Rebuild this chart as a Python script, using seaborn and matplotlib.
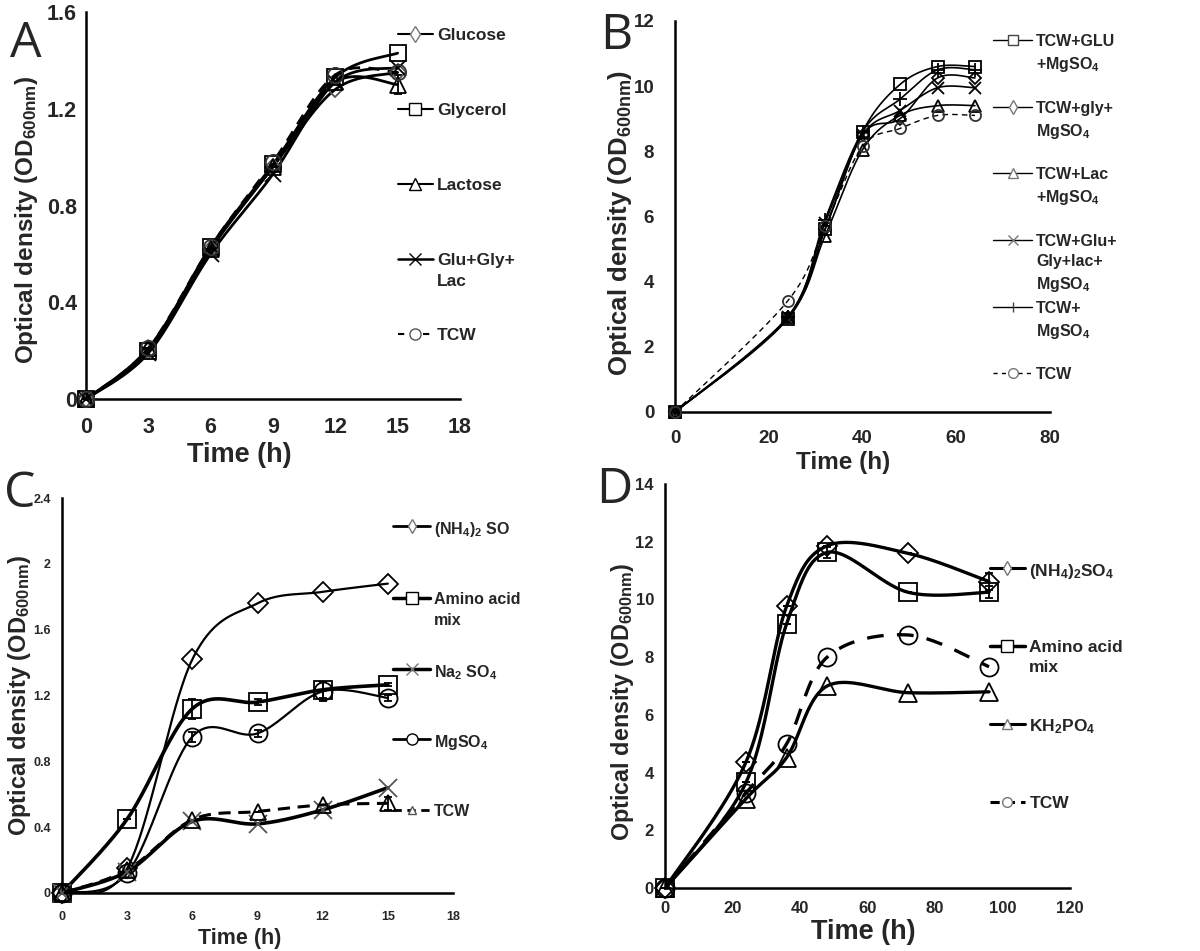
import numpy as np
import pandas as pd
import seaborn as sns
import matplotlib.pyplot as plt

# ---- data ----
# A : carbon sources
a_time = [0, 3, 6, 9, 12, 15]
a_glucose = [0, 0.20, 0.62, 0.96, 1.28, 1.35]
a_glycerol = [0, 0.20, 0.63, 0.97, 1.33, 1.43]
a_lactose = [0, 0.21, 0.62, 0.96, 1.31, 1.30]
a_lactose_err = [0, 0, 0, 0, 0, 0.04]
a_mix = [0, 0.19, 0.60, 0.93, 1.31, 1.37]
a_tcw = [0, 0.21, 0.63, 0.98, 1.34, 1.35]

# B : carbon + MgSO4
b_time = [0, 24, 32, 40, 48, 56, 64]
b_glu = [0, 2.85, 5.6, 8.6, 10.05, 10.6, 10.6]
b_gly = [0, 2.9, 5.6, 8.5, 9.0, 10.25, 10.25]
b_lac = [0, 2.9, 5.4, 8.05, 9.1, 9.4, 9.4]
b_mix = [0, 2.9, 5.8, 8.5, 9.25, 9.95, 9.95]
b_mg = [0, 2.9, 5.9, 8.6, 9.6, 10.5, 10.5]
b_tcw = [0, 3.4, 5.7, 8.15, 8.7, 9.1, 9.1]

# C : nitrogen / salt sources (short)
c_time = [0, 3, 6, 9, 12, 15]
c_nh4 = [0, 0.15, 1.42, 1.76, 1.83, 1.88]
c_amino = [0, 0.45, 1.12, 1.16, 1.235, 1.265]
c_amino_err = [0, 0, 0.06, 0.02, 0.05, 0.01]
c_na = [0, 0.13, 0.435, 0.42, 0.505, 0.64]
c_mg = [0, 0.12, 0.95, 0.97, 1.225, 1.185]
c_mg_err = [0, 0, 0.03, 0.02, 0.06, 0.02]
c_tcw = [0, 0.14, 0.445, 0.495, 0.535, 0.545]
c_tcw_err = [0, 0, 0, 0, 0, 0.04]

# D : nitrogen / phosphate sources (long)
d_time = [0, 24, 36, 48, 72, 96]
d_nh4 = [0, 4.37, 9.76, 11.86, 11.6, 10.62]
d_nh4_err = [0, 0, 0, 0, 0, 0.3]
d_amino = [0, 3.66, 9.15, 11.63, 10.25, 10.25]
d_amino_err = [0, 0, 0, 0.2, 0, 0.2]
d_kh2po4 = [0, 3.1, 4.52, 7.0, 6.77, 6.8]
d_tcw = [0, 3.3, 4.99, 8.0, 8.77, 7.67]

sns.set_style('white')
plt.rcParams['font.family'] = ['Liberation Sans', 'DejaVu Sans']
plt.rcParams['font.weight'] = 'bold'
plt.rcParams['mathtext.fontset'] = 'custom'
plt.rcParams['mathtext.rm'] = 'Liberation Sans:bold'
plt.rcParams['mathtext.bf'] = 'Liberation Sans:bold'
plt.rcParams['mathtext.it'] = 'Liberation Sans:bold'


def smooth(x, y, n=40):
    # excel style smoothed line (bezier through the points)
    x = np.asarray(x, float)
    y = np.asarray(y, float)
    px, py = [], []
    t = np.linspace(0, 1, n)
    for i in range(len(x) - 1):
        x0, y0 = (x[i - 1], y[i - 1]) if i > 0 else (x[i], y[i])
        x3, y3 = (x[i + 2], y[i + 2]) if i + 2 < len(x) else (x[i + 1], y[i + 1])
        c1x, c1y = x[i] + (x[i + 1] - x0) / 6, y[i] + (y[i + 1] - y0) / 6
        c2x, c2y = x[i + 1] - (x3 - x[i]) / 6, y[i + 1] - (y3 - y[i]) / 6
        bx = (1 - t)**3 * x[i] + 3 * (1 - t)**2 * t * c1x + 3 * (1 - t) * t**2 * c2x + t**3 * x[i + 1]
        by = (1 - t)**3 * y[i] + 3 * (1 - t)**2 * t * c1y + 3 * (1 - t) * t**2 * c2y + t**3 * y[i + 1]
        px.extend(bx)
        py.extend(by)
    return np.array(px), np.array(py)


def draw(ax, x, y, marker, lw=2, ls='-', ms=10, err=None, mec='black', mew=1.3):
    sx, sy = smooth(x, y)
    df = pd.DataFrame({'x': sx, 'y': sy})
    sns.lineplot(data=df, x='x', y='y', ax=ax, color='black', lw=lw, linestyle=ls,
                 sort=False, estimator=None)
    ax.errorbar(x, y, yerr=err, fmt=marker, ms=ms, mfc='none', mec=mec, mew=mew,
                ecolor='black', elinewidth=1.3, capsize=3, clip_on=False, zorder=3)


def legend(ax, entries, x0, x1, ys, fs=12.5, lsp=1.5):
    for (label, marker, ls, lw, ms, mc), y in zip(entries, ys):
        ax.plot([x0, x1], [y, y], color='black', lw=lw, ls=ls, transform=ax.transAxes, clip_on=False)
        ax.plot([(x0 + x1) / 2], [y], marker=marker, ms=ms, mfc='white', mec=mc, mew=1,
                transform=ax.transAxes, clip_on=False)
        ax.annotate(label, xy=(x1, y), xycoords='axes fraction', xytext=(3, 4.5),
                    textcoords='offset points', va='top', ha='left', fontsize=fs,
                    fontweight='bold', linespacing=lsp)


def style(ax, xticks, yticks, xlim, ylim, tfs, xfs, yfs, xlab_pos, ylab_pos, xpad=7, ypad=6):
    ax.set_xlim(xlim)
    ax.set_ylim(ylim)
    ax.set_xticks(xticks)
    ax.set_yticks(yticks)
    ax.set_yticklabels([('%g' % v) for v in yticks])
    for s in ['top', 'right']:
        ax.spines[s].set_visible(False)
    for s in ['left', 'bottom']:
        ax.spines[s].set_color('black')
        ax.spines[s].set_linewidth(1.8)
    ax.tick_params(axis='x', direction='out', length=6, width=1.8, pad=xpad, labelsize=tfs)
    ax.tick_params(axis='y', length=0, pad=ypad, labelsize=tfs)
    for lab in ax.get_xticklabels() + ax.get_yticklabels():
        lab.set_fontweight('bold')
    ax.set_xlabel('Time (h)', fontsize=xfs, fontweight='bold', va='center')
    ax.set_ylabel(r'Optical density (OD$_{\mathbf{600nm}}$)', fontsize=yfs, fontweight='bold', va='center')
    ax.xaxis.set_label_coords(*xlab_pos)
    ax.yaxis.set_label_coords(*ylab_pos)


fig = plt.figure(figsize=(12, 9.51), dpi=100)
axA = fig.add_axes([0.0717, 0.5804, 0.3116, 0.4070])
axB = fig.add_axes([0.5625, 0.5668, 0.3125, 0.4112])
axC = fig.add_axes([0.0517, 0.0610, 0.3258, 0.4153])
axD = fig.add_axes([0.5542, 0.0662, 0.3375, 0.4248])

# ---- A ----
draw(axA, a_time, a_glucose, 'D', ms=8, mec='#555555')
draw(axA, a_time, a_glycerol, 's', ms=11)
draw(axA, a_time, a_lactose, '^', ms=11, err=a_lactose_err)
draw(axA, a_time, a_mix, 'x', ms=11)
draw(axA, a_time, a_tcw, 'o', ls=(0, (4, 3)), ms=11, mec='#333333')
style(axA, range(0, 19, 3), [0, 0.4, 0.8, 1.2, 1.6], (0, 18), (0, 1.6), 15.5, 19.5, 17.5,
      (0.41, -0.145), (-0.158, 0.462), ypad=6.5)
legend(axA, [('Glucose', 'd', '-', 1.5, 8, '#777777'),
             ('Glycerol', 's', '-', 1.5, 8, 'black'),
             ('Lactose', '^', '-', 1.5, 8, 'black'),
             ('Glu+Gly+\nLac', 'x', '-', 1.8, 8, 'black'),
             ('TCW', 'o', (0, (3, 3)), 1.5, 8, '#555555')],
       0.834, 0.928, [0.943, 0.749, 0.556, 0.362, 0.168])

# ---- B ----
draw(axB, b_time, b_glu, 's', lw=1.2, ms=8)
draw(axB, b_time, b_gly, 'D', lw=1.2, ms=6.5)
draw(axB, b_time, b_lac, '^', lw=1.2, ms=8)
draw(axB, b_time, b_mix, 'x', lw=1.2, ms=8)
draw(axB, b_time, b_mg, '+', lw=1.2, ms=10)
draw(axB, b_time, b_tcw, 'o', lw=1.0, ls=(0, (4, 3)), ms=8, mec='#333333')
style(axB, range(0, 81, 20), range(0, 13, 2), (0, 80), (0, 12), 13.5, 17.5, 18.5,
      (0.448, -0.13), (-0.148, 0.483), ypad=15)
legend(axB, [('TCW+GLU\n+MgSO$_4$', 's', '-', 1.0, 7, '#444444'),
             ('TCW+gly+\nMgSO$_4$', 'd', '-', 1.0, 7, '#777777'),
             ('TCW+Lac\n+MgSO$_4$', '^', '-', 1.0, 7, '#777777'),
             ('TCW+Glu+\nGly+lac+\nMgSO$_4$', 'x', '-', 1.0, 7, '#777777'),
             ('TCW+\nMgSO$_4$', '|', '-', 1.0, 7, '#444444'),
             ('TCW', 'o', (0, (3, 3)), 1.0, 7, '#777777')],
       0.848, 0.952, [0.951, 0.780, 0.611, 0.440, 0.269, 0.100], fs=11.5, lsp=1.45)

# ---- C ----
draw(axC, c_time, c_nh4, 'D', lw=1.6, ms=10)
draw(axC, c_time, c_amino, 's', lw=2.6, ms=13, err=c_amino_err)
draw(axC, c_time, c_na, 'x', lw=2.6, ms=13, mec='#555555')
draw(axC, c_time, c_mg, 'o', lw=1.6, ms=13, err=c_mg_err)
draw(axC, c_time, c_tcw, '^', lw=2.2, ls=(0, (4, 2.5)), ms=12, err=c_tcw_err)
style(axC, range(0, 19, 3), [0, 0.4, 0.8, 1.2, 1.6, 2.0, 2.4], (0, 18), (0, 2.4), 9, 15.5, 17,
      (0.455, -0.114), (-0.11, 0.5), ypad=8)
legend(axC, [('(NH$_4$)$_2$ SO', 'd', '-', 2.0, 7, '#777777'),
             ('Amino acid\nmix', 's', '-', 2.5, 8, 'black'),
             ('Na$_2$ SO$_4$', 'x', '-', 2.5, 9, '#777777'),
             ('MgSO$_4$', 'o', '-', 2.0, 8, 'black'),
             ('TCW', '^', (0, (3, 2)), 2.0, 6, '#555555')],
       0.847, 0.941, [0.929, 0.747, 0.567, 0.390, 0.210], fs=11.5)

# ---- D ----
draw(axD, d_time, d_nh4, 'D', lw=2.4, ms=10, err=d_nh4_err)
draw(axD, d_time, d_amino, 's', lw=2.4, ms=13, err=d_amino_err)
draw(axD, d_time, d_kh2po4, '^', lw=2.4, ms=13)
draw(axD, d_time, d_tcw, 'o', lw=2.4, ls=(0, (5, 4)), ms=13)
style(axD, range(0, 121, 20), range(0, 15, 2), (0, 120), (0, 14), 12, 19.5, 16.8,
      (0.489, -0.11), (-0.106, 0.46), xpad=3.5, ypad=8)
legend(axD, [('(NH$_4$)$_2$SO$_4$', 'd', '-', 2.2, 7, '#777777'),
             ('Amino acid\nmix', 's', '-', 2.5, 8, 'black'),
             ('KH$_2$PO$_4$', '^', '-', 2.2, 7, '#777777'),
             ('TCW', 'o', (0, (3, 2)), 2.2, 7, '#777777')],
       0.802, 0.889, [0.792, 0.599, 0.406, 0.213], fs=12.5, lsp=1.4)

# panel letters
for letter, (px, py) in zip('ABCD', [(0.008, 0.98), (0.500, 0.988), (0.003, 0.506), (0.497, 0.511)]):
    fig.text(px, py, letter, fontsize=36, fontfamily='Open Sans', fontweight='normal', va='top')

plt.savefig('out.png', dpi=100)
